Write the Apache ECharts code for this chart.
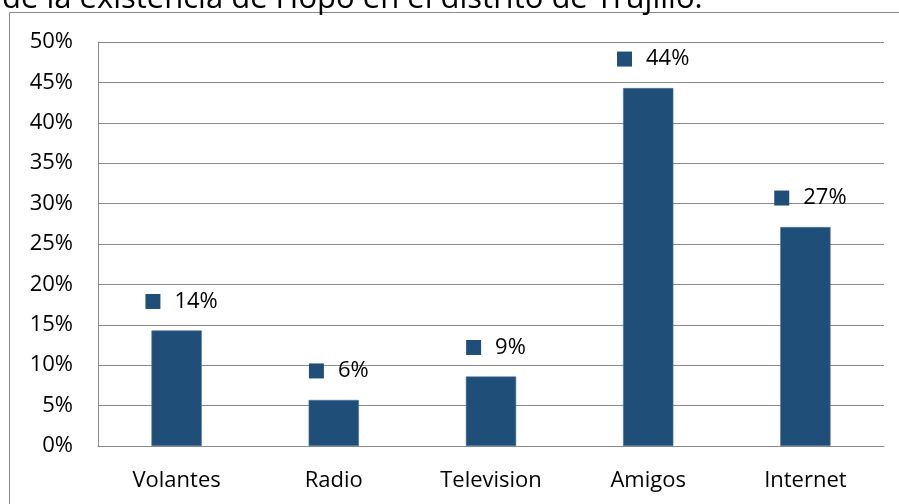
<!DOCTYPE html>
<html><head><meta charset="utf-8">
<script src="https://cdn.jsdelivr.net/npm/echarts@6/dist/echarts.min.js"></script>
<style>html,body{margin:0;padding:0;background:#fff}#c{width:899px;height:504px}</style>
</head><body><div id="c"></div>
<script>
const titleText = 'de la existencia de Hopo en el distrito de Trujillo.';
const categories = ['Volantes', 'Radio', 'Television', 'Amigos', 'Internet'];
const values = [14.3, 5.7, 8.6, 44.3, 27.1];
const yTicks = [0, 5, 10, 15, 20, 25, 30, 35, 40, 45, 50];

const FONT = '"Open Sans", "Noto Sans", sans-serif';
const BAR = '#1f4e79';
const chart = echarts.init(document.getElementById('c'));
chart.setOption({
  animation: false,
  backgroundColor: '#fff',
  title: {
    text: titleText, left: -3, top: -21,
    textStyle: { fontFamily: FONT, fontSize: 31, fontWeight: 'normal', color: '#000' }
  },
  graphic: [{
    type: 'rect', shape: { x: 9.5, y: 12.5, width: 900, height: 500 },
    style: { fill: 'none', stroke: '#888', lineWidth: 1 }, z: -1
  }],
  grid: { left: 98, right: 15, top: 42, bottom: 58, containLabel: false },
  xAxis: {
    type: 'category', data: categories,
    axisLine: { show: true, lineStyle: { color: '#8a8a8a' } },
    axisTick: { show: false },
    axisLabel: { fontFamily: FONT, fontSize: 22, color: '#000', margin: 24 }
  },
  yAxis: {
    type: 'value', min: yTicks[0], max: yTicks[yTicks.length - 1], interval: 5,
    axisLine: { show: true, lineStyle: { color: '#8a8a8a' } },
    axisTick: { show: false },
    splitLine: { lineStyle: { color: '#8a8a8a', width: 1 } },
    axisLabel: { fontFamily: FONT, fontSize: 22, color: '#000', margin: 25,
      formatter: v => v + '%' }
  },
  series: [{
    type: 'bar', data: values, barWidth: '32%',
    itemStyle: { color: BAR, borderColor: '#4d7398', borderWidth: 0.6 },
    label: {
      show: true, position: 'top', distance: 18, offset: [5, 0],
      formatter: p => '{s|}{v|' + Math.round(p.value) + '%}',
      rich: {
        s: { width: 15, height: 15, backgroundColor: BAR },
        v: { fontFamily: FONT, fontSize: 22, color: '#000', padding: [0, 0, 0, 14] }
      }
    }
  }]
});
</script></body></html>
